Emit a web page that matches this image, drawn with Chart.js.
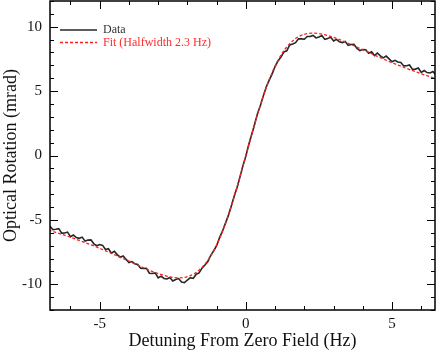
<!DOCTYPE html>
<html>
<head>
<meta charset="utf-8">
<script src="https://cdn.jsdelivr.net/npm/chart.js@4/dist/chart.umd.min.js"></script>
<style>
  html, body { margin: 0; padding: 0; background: #fff; }
  canvas { display: block; }
</style>
</head>
<body>
<canvas id="myChart" width="436" height="352"></canvas>
<script>
// measured trace, sampled every 0.1 Hz from -6.7 Hz
const dataStart = -6.7;
const dataStep = 0.1;
const dataValues = [
  -5.50, -5.76, -5.73, -5.68, -6.03, -6.02, -5.95, -6.30, -6.18, -6.37,
  -6.43, -6.34, -6.65, -6.57, -6.55, -6.86, -7.01, -6.92, -6.98, -7.30,
  -7.24, -7.59, -7.44, -7.70, -7.90, -7.80, -8.06, -8.32, -8.24, -8.40,
  -8.46, -8.76, -8.78, -8.76, -9.14, -9.16, -9.12, -9.50, -9.37, -9.55,
  -9.59, -9.47, -9.75, -9.63, -9.56, -9.82, -9.88, -9.67, -9.49, -9.55,
  -9.22, -9.12, -8.75, -8.51, -8.23, -7.75, -7.40, -7.01, -6.38, -5.88,
  -5.27, -4.67, -3.94, -3.17, -2.49, -1.66, -0.79, -0.05, 0.85, 1.63,
  2.43, 3.27, 3.91, 4.65, 5.34, 5.85, 6.34, 6.91, 7.34, 7.64,
  8.04, 8.13, 8.59, 8.66, 8.76, 9.06, 9.06, 9.03, 9.24, 9.24,
  9.32, 9.13, 9.21, 9.32, 9.02, 9.08, 9.20, 8.89, 9.02, 8.83,
  8.77, 8.86, 8.55, 8.62, 8.63, 8.31, 8.15, 8.23, 8.22, 7.95,
  8.06, 7.76, 7.96, 7.74, 7.58, 7.72, 7.50, 7.28, 7.39, 7.26,
  7.23, 6.96, 6.97, 7.03, 6.69, 6.71, 6.79, 6.45, 6.60, 6.44,
  6.41, 6.53, 6.25
];

// fitted curve
const fitX = [-6.75, -6.5, -6, -5.5, -5, -4.5, -4, -3.5, -3, -2.5, -2.25, -2, -1.75, -1.5, -1.25, -1, -0.75, -0.5, -0.25,
  0, 0.25, 0.5, 0.75, 1, 1.25, 1.5, 1.75, 2, 2.25, 2.5, 3, 3.5, 4, 4.5, 5, 5.5, 6, 6.5];
const fitY = [-5.80, -5.97, -6.35, -6.76, -7.21, -7.70, -8.21, -8.72, -9.17, -9.47, -9.50, -9.41, -9.16, -8.69, -7.97, -6.95, -5.60, -3.94, -2.04,
  0, 2.04, 3.94, 5.60, 6.95, 7.97, 8.69, 9.16, 9.41, 9.50, 9.47, 9.17, 8.72, 8.21, 7.70, 7.21, 6.76, 6.35, 5.97];

const seriesLabels = ['Data', 'Fit (Halfwidth 2.3 Hz)'];
const xTitle = 'Detuning From Zero Field (Hz)';
const yTitle = 'Optical Rotation (mrad)';

const serif = '"Liberation Serif", "DejaVu Serif", serif';

const dataPoints = dataValues.map((v, i) => ({ x: +(dataStart + i * dataStep).toFixed(2), y: v }));
const fitPoints = fitX.map((x, i) => ({ x: x, y: fitY[i] }));

// inward ticks on all four sides, frame and the little legend inside the plot
const frameTicks = {
  id: 'frameTicks',
  afterDraw(chart) {
    const { ctx, chartArea: a, scales: { x, y } } = chart;
    ctx.save();
    ctx.strokeStyle = '#000';
    ctx.lineWidth = 1;
    ctx.beginPath();
    x.ticks.forEach(t => {
      const px = Math.round(x.getPixelForValue(t.value)) + 0.5;
      const len = t.value % 5 === 0 ? 8 : 4;
      ctx.moveTo(px, a.bottom); ctx.lineTo(px, a.bottom - len);
      ctx.moveTo(px, a.top); ctx.lineTo(px, a.top + len);
    });
    y.ticks.forEach(t => {
      const py = Math.round(y.getPixelForValue(t.value)) + 0.5;
      const len = t.value % 5 === 0 ? 8 : 4;
      ctx.moveTo(a.left, py); ctx.lineTo(a.left + len, py);
      ctx.moveTo(a.right, py); ctx.lineTo(a.right - len, py);
    });
    ctx.stroke();
    ctx.lineWidth = 1.5;
    ctx.strokeRect(a.left, a.top, a.width, a.height);

    // legend
    ctx.font = '12px ' + serif;
    ctx.textBaseline = 'middle';
    const rows = [chart.data.datasets[1], chart.data.datasets[0]];
    const textColors = ['#333', '#ff2a2a'];
    rows.forEach((ds, i) => {
      const yy = a.top + 29 + i * 12.5;
      ctx.beginPath();
      ctx.strokeStyle = ds.borderColor;
      ctx.lineWidth = 1.3;
      ctx.setLineDash(ds.borderDash || []);
      ctx.moveTo(a.left + 10, yy);
      ctx.lineTo(a.left + 47, yy);
      ctx.stroke();
      ctx.setLineDash([]);
      ctx.fillStyle = textColors[i];
      ctx.fillText(ds.label, a.left + 53, yy);
    });
    ctx.restore();
  }
};

new Chart(document.getElementById('myChart'), {
  type: 'line',
  data: {
    datasets: [{
      label: seriesLabels[1],
      data: fitPoints,
      borderColor: '#ff1e1e',
      borderWidth: 1.3,
      borderDash: [3, 2],
      pointRadius: 0,
      cubicInterpolationMode: 'monotone',
      order: 0
    }, {
      label: seriesLabels[0],
      data: dataPoints,
      borderColor: '#262626',
      borderWidth: 1.6,
      pointRadius: 0,
      tension: 0,
      order: 1
    }]
  },
  options: {
    responsive: false,
    devicePixelRatio: 1,
    animation: false,
    layout: { padding: { top: 1, right: 1, left: 0, bottom: 0 } },
    plugins: {
      legend: { display: false },
      tooltip: { enabled: false }
    },
    scales: {
      x: {
        type: 'linear',
        min: -6.7,
        max: 6.47,
        grid: { display: false, drawTicks: false },
        border: { display: false },
        ticks: {
          stepSize: 1,
          includeBounds: false,
          autoSkip: false,
          maxRotation: 0,
          padding: 5,
          color: '#111',
          font: { family: serif, size: 15 },
          callback: v => (v % 5 === 0 ? String(v) : '')
        },
        title: {
          display: true,
          text: xTitle,
          color: '#111',
          padding: 0,
          font: { family: serif, size: 18 }
        },
        afterFit: s => { s.height = 42; s.paddingLeft = 0; s.paddingRight = 0; }
      },
      y: {
        min: -12,
        max: 12,
        grid: { display: false, drawTicks: false },
        border: { display: false },
        ticks: {
          stepSize: 1,
          autoSkip: false,
          padding: 8,
          color: '#111',
          font: { family: serif, size: 15 },
          callback: v => (v % 5 === 0 ? String(v) : '')
        },
        title: {
          display: true,
          text: yTitle,
          color: '#111',
          padding: 0,
          font: { family: serif, size: 18 }
        },
        afterFit: s => { s.width = 50; s.paddingTop = 0; s.paddingBottom = 0; }
      }
    }
  },
  plugins: [frameTicks]
});
</script>
</body>
</html>
